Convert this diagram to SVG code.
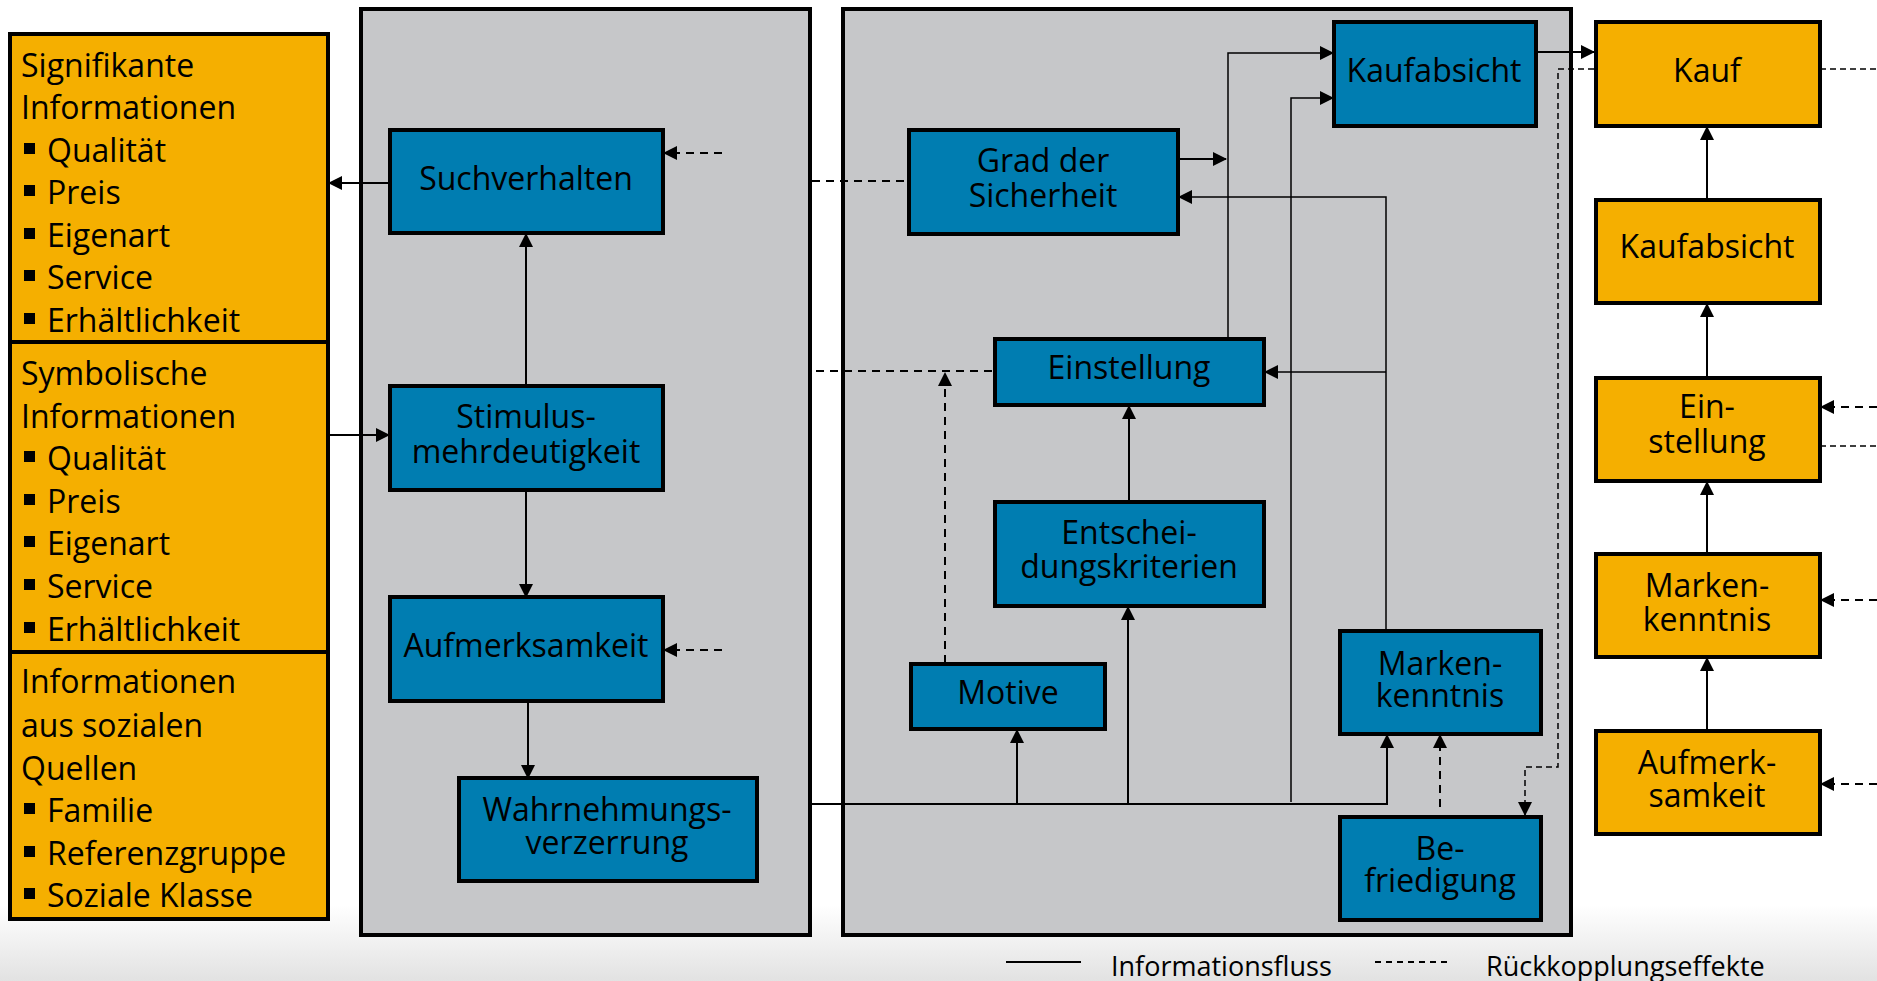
<svg xmlns="http://www.w3.org/2000/svg" width="1877" height="981" viewBox="0 0 1877 981">
<style>
.blue{fill:#007DB1;stroke:#000;stroke-width:4}
.org{fill:#F5AF00;stroke:#000;stroke-width:4}
.panel{fill:#C6C7C9;stroke:#000;stroke-width:4}
.t{font-family:"Open Sans","Noto Sans",sans-serif;font-size:32px;fill:#000}
.c{text-anchor:middle}
.lg{font-size:27px}
.ln{fill:none;stroke:#000;stroke-width:2}
.thin{stroke-width:1.5}
.ds{stroke-dasharray:8 6}
.dt{stroke-dasharray:6 4;stroke-width:1.5}
.b{fill:#000}
</style>
<defs>
<marker id="ah" viewBox="0 0 14 14" refX="13" refY="7" markerWidth="14" markerHeight="14" markerUnits="userSpaceOnUse" orient="auto"><path d="M0,0 L14,7 L0,14 z" fill="#000"/></marker>
<linearGradient id="bg" x1="0" y1="0" x2="0" y2="1"><stop offset="0" stop-color="#fff"/><stop offset="1" stop-color="#E2E2E2"/></linearGradient>
</defs>
<rect x="0" y="0" width="1877" height="981" fill="#fff"/>
<rect x="0" y="905" width="1877" height="76" fill="url(#bg)"/>

<g id="panel-wahrnehmung"><rect class="panel" x="361" y="9" width="449" height="926"/></g>
<g id="panel-lernen"><rect class="panel" x="843" y="9" width="728" height="926"/></g>

<g id="info-signifikant">
<rect class="org" x="10" y="34" width="318" height="308"/>
<text class="t" x="21" y="77">Signifikante</text>
<text class="t" x="21" y="119">Informationen</text>
<rect class="b" x="24" y="143" width="11" height="11"/><text class="t" x="47" y="162">Qualität</text>
<rect class="b" x="24" y="185" width="11" height="11"/><text class="t" x="47" y="204">Preis</text>
<rect class="b" x="24" y="228" width="11" height="11"/><text class="t" x="47" y="247">Eigenart</text>
<rect class="b" x="24" y="270" width="11" height="11"/><text class="t" x="47" y="289">Service</text>
<rect class="b" x="24" y="313" width="11" height="11"/><text class="t" x="47" y="332">Erhältlichkeit</text>
</g>
<g id="info-symbolisch">
<rect class="org" x="10" y="342" width="318" height="310"/>
<text class="t" x="21" y="385">Symbolische</text>
<text class="t" x="21" y="428">Informationen</text>
<rect class="b" x="24" y="451" width="11" height="11"/><text class="t" x="47" y="470">Qualität</text>
<rect class="b" x="24" y="494" width="11" height="11"/><text class="t" x="47" y="513">Preis</text>
<rect class="b" x="24" y="536" width="11" height="11"/><text class="t" x="47" y="555">Eigenart</text>
<rect class="b" x="24" y="579" width="11" height="11"/><text class="t" x="47" y="598">Service</text>
<rect class="b" x="24" y="622" width="11" height="11"/><text class="t" x="47" y="641">Erhältlichkeit</text>
</g>
<g id="info-sozial">
<rect class="org" x="10" y="652" width="318" height="267"/>
<text class="t" x="21" y="693">Informationen</text>
<text class="t" x="21" y="737">aus sozialen</text>
<text class="t" x="21" y="780">Quellen</text>
<rect class="b" x="24" y="803" width="11" height="11"/><text class="t" x="47" y="822">Familie</text>
<rect class="b" x="24" y="846" width="11" height="11"/><text class="t" x="47" y="865">Referenzgruppe</text>
<rect class="b" x="24" y="888" width="11" height="11"/><text class="t" x="47" y="907">Soziale Klasse</text>
</g>

<g id="connectors">
<path class="ln" d="M390,183 H329" marker-end="url(#ah)"/>
<path class="ln" d="M328,435 H389" marker-end="url(#ah)"/>
<path class="ln" d="M526,386 V234" marker-end="url(#ah)"/>
<path class="ln" d="M526,490 V597" marker-end="url(#ah)"/>
<path class="ln" d="M528,701 V778" marker-end="url(#ah)"/>
<path class="ln" d="M810,804 H1387 V735" marker-end="url(#ah)"/>
<path class="ln" d="M1017,804 V730" marker-end="url(#ah)"/>
<path class="ln" d="M1128,804 V607" marker-end="url(#ah)"/>
<path class="ln thin" d="M1291,802 V98 H1333" marker-end="url(#ah)"/>
<path class="ln" d="M1129,500 V406" marker-end="url(#ah)"/>
<path class="ln thin" d="M1228,338 V53 H1333" marker-end="url(#ah)"/>
<path class="ln" d="M1178,159 H1226" marker-end="url(#ah)"/>
<path class="ln thin" d="M1386,630 V197 H1179" marker-end="url(#ah)"/>
<path class="ln thin" d="M1386,372 H1265" marker-end="url(#ah)"/>
<path class="ln" d="M1536,52 H1594" marker-end="url(#ah)"/>
<path class="ln" d="M1707,199 V127" marker-end="url(#ah)"/>
<path class="ln" d="M1707,377 V304" marker-end="url(#ah)"/>
<path class="ln" d="M1707,553 V482" marker-end="url(#ah)"/>
<path class="ln" d="M1707,731 V658" marker-end="url(#ah)"/>
<path class="ln ds" d="M722,153 H664" marker-end="url(#ah)"/>
<path class="ln ds" d="M722,650 H664" marker-end="url(#ah)"/>
<path class="ln ds" d="M812,181 H908"/>
<path class="ln ds" d="M816,371 H994"/>
<path class="ln ds" d="M945,663 V373" marker-end="url(#ah)"/>
<path class="ln ds" d="M1440,807 V735" marker-end="url(#ah)"/>
<path class="ln ds" d="M1877,407 H1821" marker-end="url(#ah)"/>
<path class="ln ds" d="M1877,600 H1821" marker-end="url(#ah)"/>
<path class="ln ds" d="M1877,784 H1821" marker-end="url(#ah)"/>
<path class="ln dt" d="M1594,69 H1558 V767 H1525 V815" marker-end="url(#ah)"/>
<path class="ln dt" d="M1820,69 H1877"/>
<path class="ln dt" d="M1820,446 H1877"/>
</g>

<g id="suchverhalten"><rect class="blue" x="390" y="130" width="273" height="103"/><text class="t c" x="526" y="190">Suchverhalten</text></g>
<g id="stimulus"><rect class="blue" x="390" y="386" width="273" height="104"/><text class="t c" x="526" y="428">Stimulus-<tspan x="526" dy="35">mehrdeutigkeit</tspan></text></g>
<g id="aufmerksamkeit"><rect class="blue" x="390" y="597" width="273" height="104"/><text class="t c" x="526" y="657">Aufmerksamkeit</text></g>
<g id="wahrnehmungsverzerrung"><rect class="blue" x="459" y="778" width="298" height="103"/><text class="t c" x="607" y="821">Wahrnehmungs-<tspan x="607" dy="33">verzerrung</tspan></text></g>
<g id="grad-sicherheit"><rect class="blue" x="909" y="130" width="269" height="104"/><text class="t c" x="1043" y="172">Grad der<tspan x="1043" dy="35">Sicherheit</tspan></text></g>
<g id="kaufabsicht-blau"><rect class="blue" x="1334" y="22" width="202" height="104"/><text class="t c" x="1434" y="82">Kaufabsicht</text></g>
<g id="einstellung-blau"><rect class="blue" x="995" y="339" width="269" height="66"/><text class="t c" x="1129" y="379">Einstellung</text></g>
<g id="entscheidungskriterien"><rect class="blue" x="995" y="502" width="269" height="104"/><text class="t c" x="1129" y="544">Entschei-<tspan x="1129" dy="34">dungskriterien</tspan></text></g>
<g id="motive"><rect class="blue" x="911" y="664" width="194" height="65"/><text class="t c" x="1008" y="704">Motive</text></g>
<g id="markenkenntnis-blau"><rect class="blue" x="1340" y="631" width="201" height="103"/><text class="t c" x="1440" y="675">Marken-<tspan x="1440" dy="32">kenntnis</tspan></text></g>
<g id="befriedigung"><rect class="blue" x="1340" y="817" width="201" height="103"/><text class="t c" x="1440" y="860">Be-<tspan x="1440" dy="32">friedigung</tspan></text></g>

<g id="kauf"><rect class="org" x="1596" y="22" width="224" height="104"/><text class="t c" x="1707" y="82">Kauf</text></g>
<g id="kaufabsicht"><rect class="org" x="1596" y="200" width="224" height="103"/><text class="t c" x="1707" y="258">Kaufabsicht</text></g>
<g id="einstellung"><rect class="org" x="1596" y="378" width="224" height="103"/><text class="t c" x="1707" y="418">Ein-<tspan x="1707" dy="35">stellung</tspan></text></g>
<g id="markenkenntnis"><rect class="org" x="1596" y="554" width="224" height="103"/><text class="t c" x="1707" y="597">Marken-<tspan x="1707" dy="34">kenntnis</tspan></text></g>
<g id="aufmerk"><rect class="org" x="1596" y="731" width="224" height="103"/><text class="t c" x="1707" y="774">Aufmerk-<tspan x="1707" dy="33">samkeit</tspan></text></g>

<g id="legende">
<path class="ln" d="M1006,962 H1081"/>
<text class="t lg" x="1111" y="976">Informationsfluss</text>
<path class="ln" d="M1375,962 H1450" stroke-dasharray="6 5"/>
<text class="t lg" x="1486" y="976">Rückkopplungseffekte</text>
</g>
</svg>
